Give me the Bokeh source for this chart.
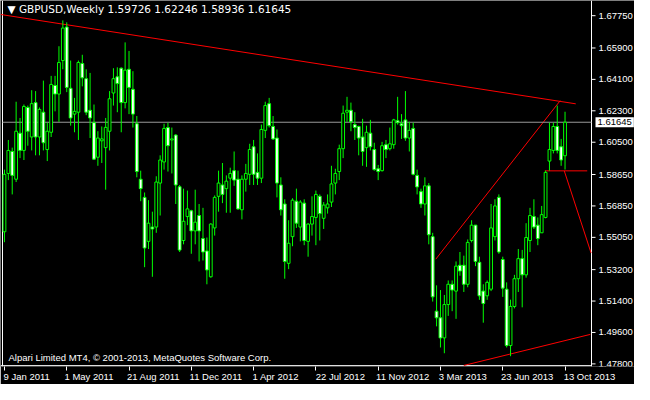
from bokeh.plotting import figure
from bokeh.models import Range1d, FixedTicker, Label, LinearAxis
from bokeh.core.properties import value
from bokeh.embed import file_html
from bokeh.resources import INLINE

# ---- data (GBPUSD weekly) ----
week_labels = ["9 Jan 2011", "1 May 2011", "21 Aug 2011", "11 Dec 2011", "1 Apr 2012",
               "22 Jul 2012", "11 Nov 2012", "3 Mar 2013", "23 Jun 2013", "13 Oct 2013"]
weeks_between_labels = 16

price_ticks = [1.47800, 1.49600, 1.51400, 1.53200, 1.55050, 1.56850,
               1.58650, 1.60500, 1.62300, 1.64100, 1.65900, 1.67750]

opens = [1.5537, 1.5871, 1.5997, 1.5838, 1.6102, 1.6003, 1.6249, 1.6080, 1.6277, 1.6080,
         1.6222, 1.6008, 1.6107, 1.6375, 1.6326, 1.6518, 1.6710, 1.6359, 1.6211, 1.6222,
         1.6501, 1.6414, 1.6233, 1.6162, 1.5964, 1.6058, 1.6019, 1.6113, 1.6332, 1.6425,
         1.6474, 1.6277, 1.6468, 1.6353, 1.6156, 1.5838, 1.5734, 1.5482, 1.5564, 1.5564,
         1.5816, 1.5937, 1.6134, 1.6063, 1.6091, 1.5795, 1.5487, 1.5624, 1.5657, 1.5542,
         1.5630, 1.5498, 1.5427, 1.5279, 1.5559, 1.5740, 1.5805, 1.5784, 1.5844, 1.5887,
         1.5838, 1.5663, 1.5838, 1.5866, 1.6024, 1.5877, 1.5844, 1.6118, 1.6271, 1.6140,
         1.6074, 1.5805, 1.5696, 1.5356, 1.5509, 1.5712, 1.5564, 1.5701, 1.5482, 1.5581,
         1.5619, 1.5740, 1.5614, 1.5674, 1.5707, 1.5816, 1.5882, 1.6013, 1.6222, 1.6233,
         1.6151, 1.6140, 1.6080, 1.6019, 1.6102, 1.6008, 1.5898, 1.5887, 1.6036, 1.6013,
         1.6036, 1.6173, 1.6156, 1.6178, 1.6074, 1.6129, 1.5860, 1.5767, 1.5696, 1.5800,
         1.5509, 1.5082, 1.5044, 1.4929, 1.5120, 1.5236, 1.5197, 1.5345, 1.5345, 1.5236,
         1.5487, 1.5575, 1.5362, 1.5197, 1.5170, 1.5208, 1.5509, 1.5734, 1.5378, 1.5208,
         1.4885, 1.5109, 1.5268, 1.5383, 1.5290, 1.5487, 1.5624, 1.5575, 1.5531, 1.5619,
         1.5942, 1.6003, 1.6140, 1.6024, 1.59726]

highs = [1.5893, 1.6063, 1.6019, 1.6282, 1.6189, 1.6266, 1.6260, 1.6348, 1.6343, 1.6249,
         1.6403, 1.6162, 1.6430, 1.6430, 1.6600, 1.6748, 1.6737, 1.6518, 1.6304, 1.6518,
         1.6551, 1.6468, 1.6447, 1.6266, 1.6113, 1.6140, 1.6189, 1.6343, 1.6474, 1.6479,
         1.6479, 1.6622, 1.6573, 1.6457, 1.6200, 1.5887, 1.5762, 1.5718, 1.5652, 1.5855,
         1.5975, 1.6156, 1.6162, 1.6134, 1.6096, 1.5805, 1.5784, 1.5773, 1.5663, 1.5778,
         1.5696, 1.5674, 1.5504, 1.5586, 1.5745, 1.5887, 1.5931, 1.5860, 1.5904, 1.5997,
         1.5887, 1.5860, 1.5926, 1.6041, 1.6063, 1.5986, 1.6151, 1.6282, 1.6304, 1.6200,
         1.6123, 1.5849, 1.5723, 1.5603, 1.5729, 1.5784, 1.5718, 1.5723, 1.5586, 1.5740,
         1.5773, 1.5751, 1.5707, 1.5751, 1.5915, 1.5898, 1.6036, 1.6260, 1.6310, 1.6277,
         1.6222, 1.6145, 1.6184, 1.6145, 1.6178, 1.6047, 1.5920, 1.6052, 1.6063, 1.6134,
         1.6184, 1.6310, 1.6211, 1.6343, 1.6167, 1.6162, 1.5893, 1.5784, 1.5849, 1.5816,
         1.5531, 1.5230, 1.5203, 1.5175, 1.5258, 1.5258, 1.5367, 1.5421, 1.5400, 1.5493,
         1.5603, 1.5575, 1.5394, 1.5236, 1.5258, 1.5696, 1.5723, 1.5751, 1.5394, 1.5247,
         1.5148, 1.5290, 1.5438, 1.5433, 1.5586, 1.5674, 1.5723, 1.5619, 1.5685, 1.5887,
         1.6162, 1.6162, 1.6260, 1.6069, 1.62246]

lows = [1.5477, 1.5833, 1.5751, 1.5822, 1.5959, 1.5948, 1.6030, 1.6003, 1.5975, 1.5975,
        1.6003, 1.5942, 1.6080, 1.6227, 1.6167, 1.6468, 1.6337, 1.6145, 1.6107, 1.6063,
        1.6370, 1.6205, 1.6074, 1.5948, 1.5915, 1.5931, 1.5778, 1.6003, 1.6260, 1.6222,
        1.6107, 1.6244, 1.6211, 1.6134, 1.5849, 1.5712, 1.5334, 1.5438, 1.5279, 1.5531,
        1.5630, 1.5893, 1.5882, 1.5871, 1.5696, 1.5421, 1.5465, 1.5575, 1.5411, 1.5465,
        1.5367, 1.5372, 1.5236, 1.5274, 1.5515, 1.5652, 1.5701, 1.5646, 1.5646, 1.5800,
        1.5663, 1.5608, 1.5767, 1.5805, 1.5805, 1.5805, 1.5816, 1.6074, 1.6134, 1.6063,
        1.5734, 1.5630, 1.5268, 1.5323, 1.5454, 1.5559, 1.5482, 1.5460, 1.5394, 1.5515,
        1.5460, 1.5487, 1.5553, 1.5641, 1.5679, 1.5751, 1.5833, 1.5959, 1.6167, 1.6113,
        1.6063, 1.5975, 1.5915, 1.5909, 1.6003, 1.5887, 1.5833, 1.5882, 1.5959, 1.6003,
        1.6013, 1.6151, 1.6069, 1.6058, 1.5997, 1.5860, 1.5751, 1.5674, 1.5630, 1.5465,
        1.5137, 1.4995, 1.4874, 1.4841, 1.5055, 1.5082, 1.5038, 1.5285, 1.5192, 1.5219,
        1.5476, 1.5340, 1.5147, 1.5016, 1.5147, 1.5197, 1.5487, 1.5411, 1.5164, 1.4874,
        1.4824, 1.5098, 1.5192, 1.5104, 1.5274, 1.5421, 1.5553, 1.5460, 1.5531, 1.5614,
        1.5887, 1.5986, 1.5986, 1.5915, 1.58936]

closes = [1.5866, 1.6003, 1.5860, 1.6113, 1.6003, 1.6255, 1.6113, 1.6271, 1.6080, 1.6238,
          1.6047, 1.6113, 1.6381, 1.6326, 1.6507, 1.6704, 1.6364, 1.6189, 1.6227, 1.6507,
          1.6419, 1.6222, 1.6189, 1.5953, 1.6074, 1.6069, 1.6135, 1.6299, 1.6414, 1.6386,
          1.6277, 1.6463, 1.6364, 1.6211, 1.5882, 1.5784, 1.5444, 1.5586, 1.5553, 1.5822,
          1.5948, 1.6129, 1.6030, 1.6069, 1.5805, 1.5432, 1.5597, 1.5668, 1.5542, 1.5592,
          1.5542, 1.5421, 1.5318, 1.5581, 1.5734, 1.5816, 1.5751, 1.5827, 1.5871, 1.5833,
          1.5668, 1.5838, 1.5871, 1.6008, 1.5866, 1.5844, 1.6123, 1.6260, 1.6145, 1.6069,
          1.5816, 1.5663, 1.5367, 1.5471, 1.5718, 1.5586, 1.5707, 1.5487, 1.5581, 1.5624,
          1.5751, 1.5641, 1.5690, 1.5696, 1.5811, 1.5871, 1.6013, 1.6216, 1.6233, 1.6167,
          1.6134, 1.6074, 1.5997, 1.6107, 1.6024, 1.5893, 1.5882, 1.6030, 1.6008, 1.6041,
          1.6178, 1.6162, 1.6145, 1.6074, 1.6118, 1.5866, 1.5794, 1.5696, 1.5800, 1.5520,
          1.5164, 1.5044, 1.4929, 1.5120, 1.5236, 1.5203, 1.5340, 1.5312, 1.5236, 1.5476,
          1.5575, 1.5367, 1.5170, 1.5126, 1.5247, 1.5559, 1.5685, 1.5421, 1.5214, 1.4885,
          1.5109, 1.5268, 1.5383, 1.5290, 1.5504, 1.5630, 1.5564, 1.5498, 1.5635, 1.5877,
          1.6008, 1.6140, 1.6003, 1.5948, 1.61645]

# trend lines drawn on the chart (bar index, price)
trend_x0 = [-1.0, 110.8, 138.8, 143.8, 118.0]
trend_y0 = [1.6782, 1.5380, 1.5886, 1.5886, 1.4771]
trend_x1 = [146.75, 142.75, 149.7, 150.7, 150.5]
trend_y1 = [1.6270, 1.6288, 1.5886, 1.5415, 1.4949]

last_price = 1.61645
title_text = "\u25BC GBPUSD,Weekly  1.59726 1.62246 1.58936 1.61645"
copyright_text = "Alpari Limited MT4, \u00A9 2001-2013, MetaQuotes Software Corp."

# ---- layout constants ----
FONT = "Liberation Sans"
LIME = "#00ff00"
W, FRAME_H = 634, 366
PX = 3.893                      # pixels per weekly bar
CHART_LO, CHART_HI = -0.5, 150.8  # chart area (bars); right of it is the price scale
X_LO = CHART_LO - 2 / PX
X_HI = X_LO + W / PX
Y_LO, Y_HI = 1.4765, 1.6862
Y_BOTTOM = 1.4770
CHAR_W = 4.45

n = len(closes)
idx = list(range(n))
tops = [max(o, c) for o, c in zip(opens, closes)]
bottoms = [min(o, c) for o, c in zip(opens, closes)]
fills = ["white" if c < o else "black" for o, c in zip(opens, closes)]
tick_idx = [weeks_between_labels * k for k in range(len(week_labels))]
label_pos = [t + CHAR_W * len(lab) / 2 / PX for t, lab in zip(tick_idx, week_labels)]

p = figure(frame_width=W, frame_height=FRAME_H,
           x_range=Range1d(X_LO, X_HI), y_range=Range1d(Y_LO, Y_HI),
           output_backend="svg", toolbar_location=None, y_axis_location=None,
           background_fill_color="black", border_fill_color="black",
           min_border_left=0, min_border_top=0, min_border_right=0, min_border_bottom=0)
p.outline_line_color = None
p.grid.visible = False

# frame lines: left border, bottom line, price-scale line
p.segment(x0=[CHART_LO, X_LO, CHART_HI], y0=[Y_LO, Y_BOTTOM, Y_LO],
          x1=[CHART_LO, CHART_HI, CHART_HI], y1=[Y_HI, Y_BOTTOM, Y_HI],
          line_color="white", line_width=1)

# price scale (right)
p.segment(x0=[CHART_HI] * len(price_ticks), y0=price_ticks,
          x1=[CHART_HI + 4 / PX] * len(price_ticks), y1=price_ticks,
          line_color="white", line_width=1)
p.text(x=[CHART_HI] * len(price_ticks), y=price_ticks,
       text=[f"{v:.5f}" for v in price_ticks], x_offset=7,
       text_align="left", text_baseline="middle", text_color="white",
       text_font=value(FONT), text_font_size="9.5px")

# trend lines
p.segment(x0=trend_x0, y0=trend_y0, x1=trend_x1, y1=trend_y1,
          line_color="#ff0000", line_width=1)

# current price line
p.segment(x0=[CHART_LO], y0=[last_price], x1=[CHART_HI], y1=[last_price],
          line_color="#9a9a9a", line_width=1)

# candles
p.segment(x0=idx, y0=lows, x1=idx, y1=highs, line_color=LIME, line_width=1)
p.vbar(x=idx, width=0.72, top=tops, bottom=bottoms,
       fill_color=fills, line_color=LIME, line_width=1)

# x axis: tick marks only
xa = p.xaxis[0]
xa.ticker = FixedTicker(ticks=tick_idx)
xa.major_label_overrides = {t: "" for t in tick_idx}
xa.major_label_text_font_size = "1px"
xa.axis_line_color = None
xa.major_tick_line_color = "white"
xa.minor_tick_line_color = None
xa.major_tick_in = 0
xa.major_tick_out = 4
xa.major_label_standoff = 0

# x axis: date labels, starting at their ticks
xl = LinearAxis(ticker=FixedTicker(ticks=label_pos),
                major_label_overrides={pos: lab for pos, lab in zip(label_pos, week_labels)},
                axis_line_color=None, major_tick_line_color=None, minor_tick_line_color=None,
                major_tick_in=0, major_tick_out=0, major_label_standoff=0,
                major_label_text_color="white", major_label_text_font=FONT,
                major_label_text_font_size="9.5px")
p.add_layout(xl, "below")

# texts
p.add_layout(Label(x=7, x_units="screen", y=Y_HI, text=title_text,
                   text_baseline="top", y_offset=-2, text_color="white",
                   text_font="DejaVu Sans", text_font_size="10.5px"))
p.add_layout(Label(x=8, x_units="screen", y=Y_BOTTOM, text=copyright_text,
                   text_baseline="bottom", y_offset=3, text_color="white",
                   text_font=FONT, text_font_size="9.5px"))
p.add_layout(Label(x=CHART_HI, y=last_price, text="1.61645", x_offset=4,
                   text_align="left", text_baseline="middle", text_color="black",
                   background_fill_color="white", padding=2, text_font=FONT,
                   text_font_size="9.5px"))

open("out.html", "w").write(file_html(p, INLINE))
